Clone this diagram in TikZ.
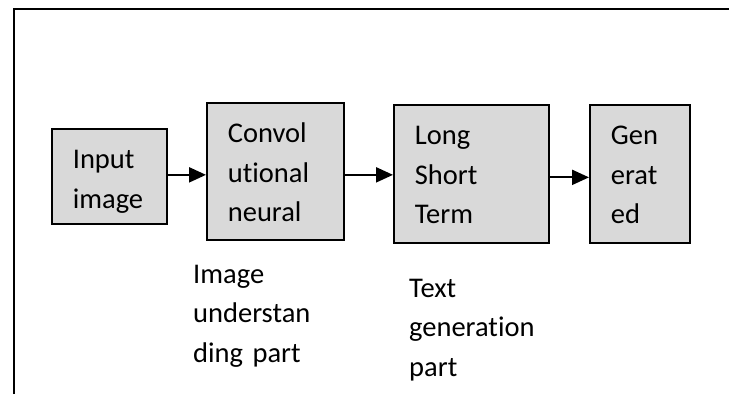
\documentclass[tikz,border=0pt]{standalone}
\usepackage{fontspec}
\setmainfont{Carlito}[Ligatures=NoCommon]
\usetikzlibrary{arrows.meta, positioning, calc}
\definecolor{boxgray}{HTML}{D9D9D9}

\begin{document}
\begin{tikzpicture}[x=1pt, y=-1pt, font=\fontsize{28.5}{39.5}\selectfont]
    \tikzstyle{stage} = [rectangle, draw=black, line width=1.7pt, fill=boxgray, anchor=north west,
      align=left, inner xsep=21pt, inner ysep=0pt, text height=40pt]
    \tikzstyle{caption} = [anchor=north west, align=left, inner sep=0pt, text height=20pt, text width=140pt]
    \tikzstyle{flow} = [-{Triangle[length=17pt, width=15pt]}, line width=2.2pt]

    \useasboundingbox (0,0) rectangle (729,394);
    \draw [line width=2.6pt] (14,394) -- (14,9) -- (729,9);

    \node (input) [stage, text width=73pt, text depth=55pt] at (51,128) {Input\\image};
    \node (conv) [stage, text width=95pt, text depth=97pt] at (206,102) {Convol\\utional\\neural};
    \node (lstm) [stage, text width=113pt, text depth=98pt] at (393,104) {Long\\Short\\Term};
    \node (gen) [stage, text width=58pt, text depth=98pt] at (589,104) {Gen\\erat\\ed};

    \node (understand) [caption] at (193,263) {Image\\understan\\ding part};
    \node (textgen) [caption] at (409,277) {Text\\generation\\part};

    \draw [flow] ([yshift=1.5pt]input.east) -- ([yshift=1.5pt]input.east -| conv.west);
    \draw [flow] ([yshift=-3.5pt]conv.east) -- ([yshift=-3.5pt]conv.east -| lstm.west);
    \draw [flow] ([yshift=-3.5pt]lstm.east) -- ([yshift=-3.5pt]lstm.east -| gen.west);
\end{tikzpicture}
\end{document}
